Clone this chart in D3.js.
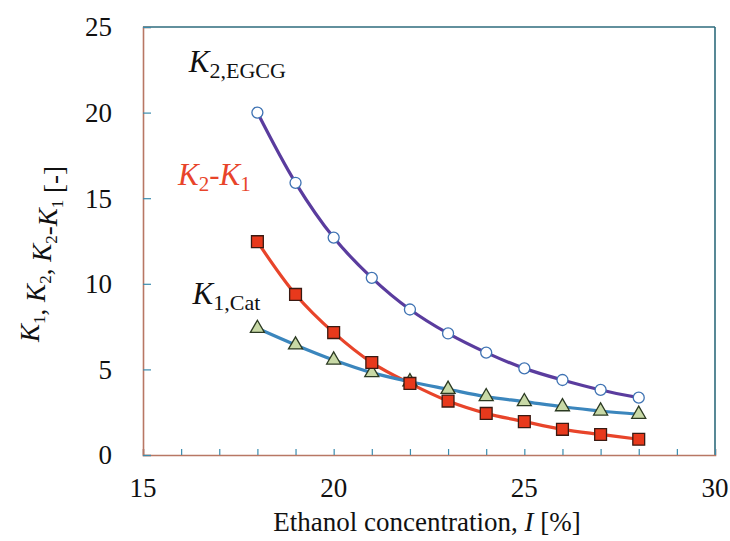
<!DOCTYPE html>
<html>
<head>
<meta charset="utf-8">
<script src="https://cdn.jsdelivr.net/npm/d3@7"></script>
<style>
  body { margin: 0; background: #fff; }
</style>
</head>
<body>
<svg id="chart" width="730" height="541"></svg>
<script>
// ethanol concentration [%]
const conc = [18, 19, 20, 21, 22, 23, 24, 25, 26, 27, 28];
// K2,EGCG (open circles)
const k2Egcg = [20.0, 15.9, 12.7, 10.35, 8.5, 7.1, 5.98, 5.06, 4.38, 3.8, 3.35];
// K2-K1 (red squares)
const k2MinusK1 = [12.46, 9.38, 7.15, 5.4, 4.18, 3.15, 2.43, 1.95, 1.5, 1.2, 0.92];
// K1,Cat (triangles)
const k1Cat = [7.4, 6.43, 5.55, 4.81, 4.28, 3.84, 3.41, 3.12, 2.82, 2.57, 2.38];

const xTicks = [15, 20, 25, 30];
const yTicks = [0, 5, 10, 15, 20, 25];

const FONT = "'Liberation Serif', 'DejaVu Serif', 'Times New Roman', serif";
const width = 730, height = 541;
const margin = { top: 27, right: 15, bottom: 86, left: 143 };

const svg = d3.select("#chart");

const x = d3.scaleLinear().domain([15, 30]).range([margin.left, width - margin.right]);
const y = d3.scaleLinear().domain([0, 25]).range([height - margin.bottom, margin.top]);

// plot frame: top/right teal, left/bottom brownish
svg.append("line")
  .attr("x1", x(15)).attr("x2", x(30)).attr("y1", y(25)).attr("y2", y(25))
  .attr("stroke", "#2e6b7c").attr("stroke-width", 1.6);
svg.append("line")
  .attr("x1", x(30)).attr("x2", x(30)).attr("y1", y(25)).attr("y2", y(0))
  .attr("stroke", "#2e6b7c").attr("stroke-width", 1.6);

// x axis (ticks point inward)
const xAxis = svg.append("g")
  .attr("transform", `translate(0,${y(0)})`)
  .call(d3.axisBottom(x).tickValues(d3.range(15, 31, 1)).tickSize(-6).tickFormat(""));
xAxis.select(".domain").attr("stroke", "#b87764").attr("stroke-width", 1.6);
xAxis.selectAll(".tick line").attr("stroke", "#3a8cae").attr("stroke-width", 1.2);

svg.append("g").selectAll("text")
  .data(xTicks)
  .join("text")
  .attr("x", d => x(d))
  .attr("y", y(0) + 42)
  .attr("text-anchor", "middle")
  .attr("font-family", FONT)
  .attr("font-size", 27)
  .attr("fill", "#111")
  .text(d => d);

// y axis
const yAxis = svg.append("g")
  .attr("transform", `translate(${x(15)},0)`)
  .call(d3.axisLeft(y).tickValues(yTicks).tickSize(-8).tickFormat(""));
yAxis.select(".domain").attr("stroke", "#b87764").attr("stroke-width", 1.6);
yAxis.selectAll(".tick line").attr("stroke", "#3a8cae").attr("stroke-width", 1.2);

svg.append("g").selectAll("text")
  .data(yTicks)
  .join("text")
  .attr("x", x(15) - 31)
  .attr("y", d => y(d))
  .attr("dy", "0.35em")
  .attr("text-anchor", "end")
  .attr("font-family", FONT)
  .attr("font-size", 27)
  .attr("fill", "#111")
  .text(d => d);

// axis titles
const xTitle = svg.append("text")
  .attr("x", 427)
  .attr("y", 531)
  .attr("text-anchor", "middle")
  .attr("font-family", FONT)
  .attr("font-size", 27)
  .attr("fill", "#111");
xTitle.append("tspan").text("Ethanol concentration, ");
xTitle.append("tspan").attr("font-style", "italic").text("I");
xTitle.append("tspan").text(" [%]");

const yTitle = svg.append("text")
  .attr("transform", "translate(39,254) rotate(-90)")
  .attr("text-anchor", "middle")
  .attr("font-family", FONT)
  .attr("font-size", 27)
  .attr("fill", "#111");
function kPart(sel, sub) {
  sel.append("tspan").attr("font-style", "italic").text("K");
  sel.append("tspan").attr("dy", 6).attr("font-size", 17).text(sub);
  sel.append("tspan").attr("dy", -6).text("");
}
kPart(yTitle, "1");
yTitle.append("tspan").text(", ");
kPart(yTitle, "2");
yTitle.append("tspan").text(", ");
kPart(yTitle, "2");
yTitle.append("tspan").text("-");
kPart(yTitle, "1");
yTitle.append("tspan").text(" [-]");

// series
const series = [
  { name: "k2Egcg", values: k2Egcg, line: "#5a3c9e", shape: "circle" },
  { name: "k2MinusK1", values: k2MinusK1, line: "#e8442a", shape: "square" },
  { name: "k1Cat", values: k1Cat, line: "#3b86bd", shape: "triangle" }
];

const lineGen = d3.line()
  .x(d => x(d[0]))
  .y(d => y(d[1]))
  .curve(d3.curveCatmullRom.alpha(0.5));

series.forEach(s => {
  const pts = conc.map((c, i) => [c, s.values[i]]);
  svg.append("path")
    .datum(pts)
    .attr("fill", "none")
    .attr("stroke", s.line)
    .attr("stroke-width", 3.2)
    .attr("d", lineGen);
});

// markers drawn on top
const sym = {
  circle: d3.symbol().type(d3.symbolCircle).size(95),
  square: d3.symbol().type(d3.symbolSquare).size(140),
  triangle: d3.symbol().type(d3.symbolTriangle).size(85)
};
const style = {
  circle: { fill: "#ffffff", stroke: "#3f73b3" },
  square: { fill: "#e8391c", stroke: "#3a1a12" },
  triangle: { fill: "#c8d9a6", stroke: "#2b3a22" }
};

[series[2], series[1], series[0]].forEach(s => {
  svg.append("g").selectAll("path")
    .data(conc.map((c, i) => [c, s.values[i]]))
    .join("path")
    .attr("transform", d => `translate(${x(d[0])},${y(d[1])})`)
    .attr("d", sym[s.shape])
    .attr("fill", style[s.shape].fill)
    .attr("stroke", style[s.shape].stroke)
    .attr("stroke-width", 1.3);
});

// series labels
function seriesLabel(xv, yv, sub, color, subSize) {
  const t = svg.append("text")
    .attr("x", x(xv))
    .attr("y", y(yv))
    .attr("font-family", FONT)
    .attr("font-size", 31)
    .attr("fill", color);
  t.append("tspan").attr("font-style", "italic").text("K");
  t.append("tspan").attr("dy", 6).attr("font-size", subSize).text(sub);
  return t;
}
seriesLabel(16.2, 22.35, "2,EGCG", "#111", 22);
seriesLabel(16.3, 8.82, "1,Cat", "#111", 22);

const diffLabel = svg.append("text")
  .attr("x", x(15.92))
  .attr("y", y(15.77))
  .attr("font-family", FONT)
  .attr("font-size", 31)
  .attr("fill", "#e8442a");
diffLabel.append("tspan").attr("font-style", "italic").text("K");
diffLabel.append("tspan").attr("dy", 6).attr("font-size", 21).text("2");
diffLabel.append("tspan").attr("dy", -6).attr("font-style", "italic").text("-K");
diffLabel.append("tspan").attr("dy", 6).attr("font-size", 21).text("1");
</script>
</body>
</html>
